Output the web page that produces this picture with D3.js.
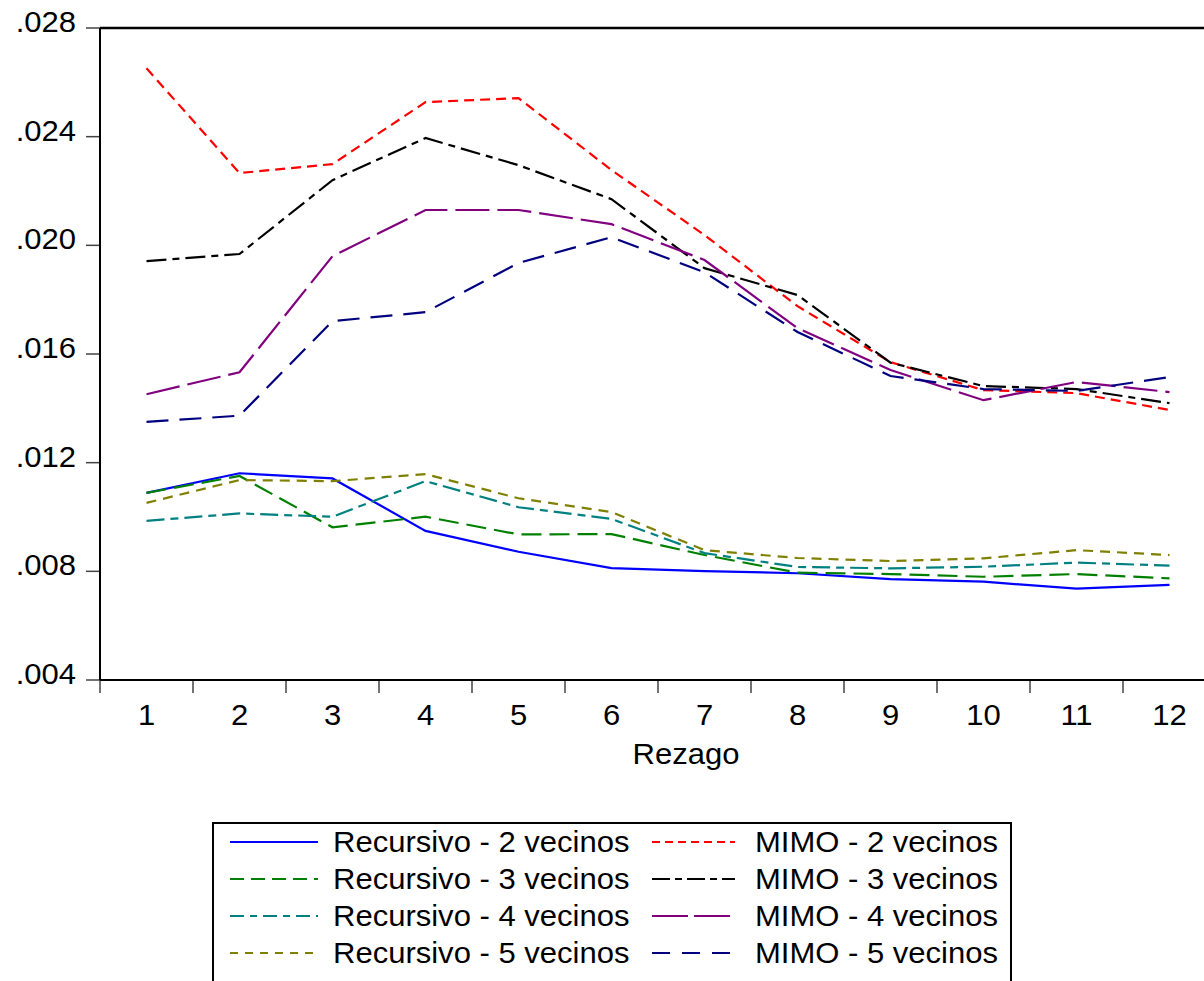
<!DOCTYPE html>
<html><head><meta charset="utf-8">
<script src="https://cdn.jsdelivr.net/npm/d3@7"></script>
<style>
body{margin:0;background:#fff;}
svg{display:block;}
text{font-family:"Liberation Sans",Arial,sans-serif;fill:#000;}
</style></head>
<body>
<script>
const lags = [1,2,3,4,5,6,7,8,9,10,11,12];
const yTicks = [0.004,0.008,0.012,0.016,0.020,0.024,0.028];

const rec2 = [0.01089,0.01161,0.01142,0.00949,0.00872,0.00812,0.00801,0.00793,0.00771,0.00762,0.00736,0.00750];
const rec3 = [0.01089,0.01151,0.00962,0.01001,0.00936,0.00937,0.00860,0.00795,0.00790,0.00780,0.00790,0.00774];
const rec4 = [0.00986,0.01013,0.01001,0.01132,0.01036,0.00993,0.00867,0.00816,0.00811,0.00817,0.00832,0.00821];
const rec5 = [0.01052,0.01136,0.01132,0.01158,0.01069,0.01018,0.00878,0.00849,0.00838,0.00848,0.00878,0.00860];
const mimo2 = [0.02652,0.02266,0.02299,0.02527,0.02542,0.02277,0.02038,0.01776,0.01570,0.01467,0.01456,0.01394];
const mimo3 = [0.01942,0.01968,0.02240,0.02395,0.02295,0.02170,0.01916,0.01817,0.01568,0.01482,0.01471,0.01419];
const mimo4 = [0.01452,0.01533,0.01960,0.02130,0.02130,0.02078,0.01946,0.01695,0.01541,0.01430,0.01497,0.01460];
const mimo5 = [0.01350,0.01373,0.01721,0.01754,0.01935,0.02030,0.01901,0.01681,0.01519,0.01471,0.01464,0.01515];

const seriesNames = ["Recursivo - 2 vecinos","Recursivo - 3 vecinos","Recursivo - 4 vecinos","Recursivo - 5 vecinos",
  "MIMO - 2 vecinos","MIMO - 3 vecinos","MIMO - 4 vecinos","MIMO - 5 vecinos"];
const seriesValues = [rec2,rec3,rec4,rec5,mimo2,mimo3,mimo4,mimo5];
const seriesColors = ["#0000FF","#008000","#008080","#808000","#FF0000","#000000","#800080","#000080"];
const seriesDash = ["none","20,8","18,6,8,6","10,7","10,6","20,6,7,6","34,8","22,11"];
const legendDash = ["none","14,7","14,6,7,6","8,7","8,5","18,5,7,5","36,6","18,12"];

(function(){
const W = 1204, H = 981;
const svg = d3.select("body").append("svg").attr("width",W).attr("height",H);

const pL = 100, pR = 1216, pT = 28, pB = 680;
const x = d3.scaleBand().domain(lags).range([pL,pR]).paddingInner(0).paddingOuter(0);
const cx = d => x(d) + x.bandwidth()/2;
const y = d3.scaleLinear().domain([0.004,0.028]).range([pB,pT]);

const FS = 29, SX = 1.07;
function txt(g, tx, ty, s, anchor){
  return g.append("text").attr("transform",`translate(${tx},${ty}) scale(${SX},1)`)
    .attr("text-anchor",anchor||"start").style("font-size",FS+"px").text(s);
}

const fmt = v => d3.format(".3f")(v).replace(/^0/,"");
yTicks.forEach(t=>{
  svg.append("line").attr("x1",86).attr("x2",pL).attr("y1",y(t)).attr("y2",y(t))
    .attr("stroke","#444").attr("stroke-width",1.5);
  txt(svg, 76, y(t)+4, fmt(t), "end");
});
lags.forEach(c=>{
  svg.append("line").attr("x1",x(c)).attr("x2",x(c)).attr("y1",pB).attr("y2",pB+13)
    .attr("stroke","#444").attr("stroke-width",1.5);
  txt(svg, cx(c), 725, String(c), "middle");
});
txt(svg, 686, 764, "Rezago", "middle");

svg.append("line").attr("x1",pL).attr("x2",W+5).attr("y1",pT).attr("y2",pT).attr("stroke","#000").attr("stroke-width",2.5);
svg.append("line").attr("x1",pL).attr("x2",W+5).attr("y1",pB).attr("y2",pB).attr("stroke","#000").attr("stroke-width",2);
svg.append("line").attr("x1",pL).attr("x2",pL).attr("y1",pT).attr("y2",pB).attr("stroke","#000").attr("stroke-width",2);

const line = d3.line().x((d,i)=>cx(lags[i])).y(d=>y(d));
seriesValues.forEach((vals,i)=>{
  svg.append("path").datum(vals).attr("d",line).attr("fill","none")
    .attr("stroke",seriesColors[i]).attr("stroke-width",2.2)
    .attr("stroke-dasharray",seriesDash[i]);
});

svg.append("rect").attr("x",213).attr("y",823).attr("width",798).attr("height",200)
  .attr("fill","#fff").attr("stroke","#000").attr("stroke-width",2);
const rowY = [842,879,916,953];
seriesNames.forEach((n,i)=>{
  const col = i<4?0:1, row = i%4;
  const lx0 = col===0?230:652, lx1 = col===0?318:735, tx = col===0?333:755;
  svg.append("line").attr("x1",lx0).attr("x2",lx1).attr("y1",rowY[row]).attr("y2",rowY[row])
    .attr("stroke",seriesColors[i]).attr("stroke-width",2.2).attr("stroke-dasharray",legendDash[i]);
  txt(svg, tx, rowY[row]+10, n, "start");
});
})();
</script>
</body></html>
